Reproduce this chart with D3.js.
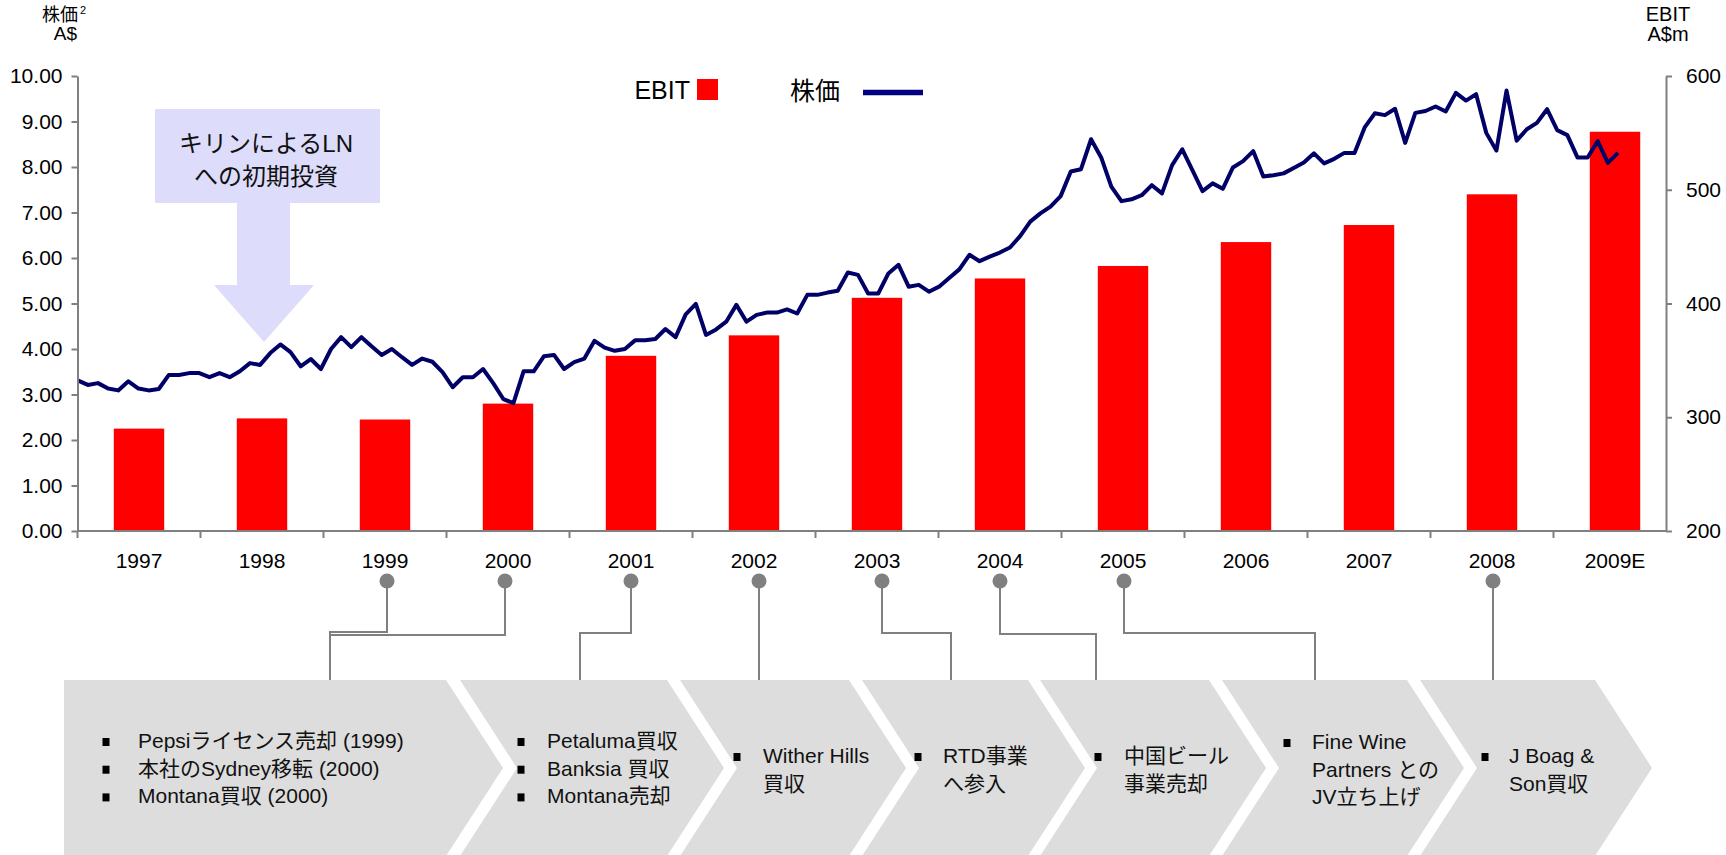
<!DOCTYPE html>
<html lang="ja">
<head>
<meta charset="utf-8">
<title>EBIT と株価</title>
<script src="https://cdn.jsdelivr.net/npm/d3@7"></script>
<style>
  body { margin: 0; background: #fff; }
  svg { display: block; font-family: "Liberation Sans", Arial, "Noto Sans CJK JP", sans-serif; }
</style>
</head>
<body>
<div id="chart"></div>
<script>
// --- data ---
const years = ["1997", "1998", "1999", "2000", "2001", "2002", "2003", "2004", "2005", "2006", "2007", "2008", "2009E"];
const ebit = [290, 299, 298, 312, 354, 372, 405, 422, 433, 454, 469, 496, 551]; // A$m

// monthly share price, A$
const price = [
  3.31, 3.21, 3.25, 3.13, 3.09, 3.29, 3.13, 3.09, 3.12, 3.43,
  3.43, 3.47, 3.47, 3.38, 3.47, 3.38, 3.51, 3.69, 3.65, 3.91,
  4.10, 3.93, 3.62, 3.78, 3.56, 4.00, 4.26, 4.04, 4.26, 4.06,
  3.87, 4.00, 3.82, 3.65, 3.79, 3.72, 3.49, 3.16, 3.38, 3.38,
  3.56, 3.25, 2.90, 2.81, 3.51, 3.51, 3.84, 3.87, 3.56, 3.71,
  3.79, 4.18, 4.03, 3.96, 4.00, 4.19, 4.19, 4.22, 4.44, 4.26,
  4.76, 4.99, 4.31, 4.43, 4.60, 4.97, 4.60, 4.75, 4.80, 4.80,
  4.87, 4.78, 5.19, 5.19, 5.24, 5.28, 5.68, 5.63, 5.22, 5.22,
  5.66, 5.85, 5.37, 5.41, 5.26, 5.37, 5.56, 5.75, 6.07, 5.93,
  6.03, 6.12, 6.23, 6.48, 6.80, 6.98, 7.13, 7.36, 7.90, 7.95,
  8.61, 8.21, 7.57, 7.25, 7.29, 7.38, 7.60, 7.42, 8.04, 8.39,
  7.93, 7.47, 7.64, 7.52, 7.99, 8.13, 8.35, 7.79, 7.82, 7.86,
  7.98, 8.10, 8.30, 8.08, 8.18, 8.31, 8.31, 8.87, 9.18, 9.14,
  9.28, 8.53, 9.19, 9.23, 9.33, 9.22, 9.63, 9.46, 9.60, 8.75,
  8.36, 9.68, 8.58, 8.83, 8.97, 9.27, 8.81, 8.70, 8.21, 8.21,
  8.57, 8.09, 8.31
];

const priceTicks = [0, 1, 2, 3, 4, 5, 6, 7, 8, 9, 10];
const ebitTicks = [200, 300, 400, 500, 600];

const annotationLines = ["キリンによるLN", "への初期投資"];

const eventYears = ["1999", "2000", "2001", "2002", "2003", "2004", "2005", "2008"];
const chevronItems = [
  [["Pepsiライセンス売却 (1999)"], ["本社のSydney移転 (2000)"], ["Montana買収 (2000)"]],
  [["Petaluma買収"], ["Banksia 買収"], ["Montana売却"]],
  [["Wither Hills", "買収"]],
  [["RTD事業", "へ参入"]],
  [["中国ビール", "事業売却"]],
  [["Fine Wine", "Partners との", "JV立ち上げ"]],
  [["J Boag &", "Son買収"]]
];

// --- layout ---
const width = 1726, height = 855;
const axisColor = "#808080";

// connector layout per event: dot nudge, elbow height, drop x on the chevron
const linkLayout = [
  { dx: 2, hy: 632, to: 330 },
  { dx: -3, hy: 635, to: 330 },
  { dx: 0, hy: 633, to: 580 },
  { dx: 5, hy: null, to: null },
  { dx: 5, hy: 633, to: 951 },
  { dx: 0, hy: 634, to: 1096 },
  { dx: 1, hy: 633, to: 1315 },
  { dx: 1, hy: null, to: null }
];

const chevronLayout = [
  { L: 64, R: 446, first: true, bx: 106, tx: 138, base: 748 },
  { L: 460, R: 667, bx: 521, tx: 547, base: 748 },
  { L: 680, R: 849, bx: 737, tx: 763, base: 763 },
  { L: 862, R: 1028, bx: 918, tx: 943, base: 763 },
  { L: 1040, R: 1209, bx: 1098, tx: 1124, base: 763 },
  { L: 1222, R: 1407, bx: 1287, tx: 1312, base: 749 },
  { L: 1420, R: 1595, bx: 1485, tx: 1509, base: 763 }
];

const svg = d3.select("#chart").append("svg")
  .attr("width", width)
  .attr("height", height)
  .style("background", "#fff");

// scales
const x = d3.scaleBand().domain(years).range([77.5, 1676.5]).padding(0);
const yL = d3.scaleLinear().domain([0, 10]).range([531, 76]);
const yR = d3.scaleLinear().domain([200, 600]).range([531, 76]);
const xi = d3.scaleLinear().domain([0, price.length - 1]).range([77.7, 1618]);
const barW = x.bandwidth() * 0.41;

// annotation box + arrow (behind the marks)
svg.append("rect")
  .attr("x", 155).attr("y", 109).attr("width", 225).attr("height", 94)
  .attr("fill", "#DDDDFB");
svg.append("polygon")
  .attr("points", [[237, 203], [290, 203], [290, 285], [314, 285], [264, 342], [214, 285], [237, 285]].join(" "))
  .attr("fill", "#DDDDFB");
svg.append("g").selectAll("text")
  .data(annotationLines)
  .enter().append("text")
  .attr("x", 266)
  .attr("y", (d, i) => 152 + i * 33)
  .attr("text-anchor", "middle")
  .attr("font-size", 24)
  .attr("fill", "#111")
  .text(d => d);

// bars
svg.append("g").selectAll("rect")
  .data(ebit)
  .enter().append("rect")
  .attr("x", (d, i) => x(years[i]) + x.bandwidth() / 2 - barW / 2)
  .attr("y", d => yR(d))
  .attr("width", barW)
  .attr("height", d => yR(200) - yR(d))
  .attr("fill", "#FF0000");

// share price line
const line = d3.line()
  .x((d, i) => xi(i))
  .y(d => yL(d));

svg.append("path")
  .datum(price)
  .attr("fill", "none")
  .attr("stroke", "#000066")
  .attr("stroke-width", 4)
  .attr("stroke-linejoin", "round")
  .attr("d", line);

// left axis
const gL = svg.append("g")
  .attr("transform", "translate(77.5,0)")
  .call(d3.axisLeft(yL).tickValues(priceTicks).tickFormat(d3.format(".2f")).tickSize(6).tickSizeOuter(0).tickPadding(9));

// right axis
const gR = svg.append("g")
  .attr("transform", "translate(1666,0)")
  .call(d3.axisRight(yR).tickValues(ebitTicks).tickSize(6).tickSizeOuter(0).tickPadding(14));

// bottom axis: labels at band centres, ticks on band edges
const gB = svg.append("g")
  .attr("transform", "translate(0,531)")
  .call(d3.axisBottom(x).tickSize(0).tickPadding(22));
gB.select(".domain").remove();
gB.append("line")
  .attr("x1", 77.5).attr("x2", 1666).attr("y1", 0).attr("y2", 0)
  .attr("stroke", axisColor).attr("stroke-width", 2);
gB.selectAll(".edge")
  .data(years)
  .enter().append("line")
  .attr("class", "edge")
  .attr("x1", d => x(d)).attr("x2", d => x(d))
  .attr("y1", 0).attr("y2", 7)
  .attr("stroke", axisColor).attr("stroke-width", 2);

[gL, gR, gB].forEach(g => {
  g.selectAll(".domain, .tick line").attr("stroke", axisColor).attr("stroke-width", 2);
  g.selectAll("text").attr("font-size", 21).attr("fill", "#000")
    .style("font-family", "\"Liberation Sans\", Arial, sans-serif");
});

// axis titles
svg.append("text").attr("x", 78).attr("y", 21).attr("text-anchor", "end").attr("font-size", 18).text("株価");
svg.append("text").attr("x", 80).attr("y", 14).attr("font-size", 11).text("2");
svg.append("text").attr("x", 77).attr("y", 40).attr("text-anchor", "end").attr("font-size", 19).text("A$");
svg.append("text").attr("x", 1668).attr("y", 21).attr("text-anchor", "middle").attr("font-size", 20).text("EBIT");
svg.append("text").attr("x", 1668).attr("y", 40.5).attr("text-anchor", "middle").attr("font-size", 20).text("A$m");

// legend
svg.append("text").attr("x", 690).attr("y", 99).attr("text-anchor", "end").attr("font-size", 25).text("EBIT");
svg.append("rect").attr("x", 697).attr("y", 79).attr("width", 21).attr("height", 21).attr("fill", "#FF0000");
svg.append("text").attr("x", 790).attr("y", 100).attr("font-size", 25).text("株価");
svg.append("line").attr("x1", 863).attr("x2", 923).attr("y1", 92.5).attr("y2", 92.5)
  .attr("stroke", "#000080").attr("stroke-width", 5.5);

// chevrons
const chevTop = 680, chevBottom = 856, chevMid = 768, chevDepth = 57;
const gC = svg.append("g");
chevronLayout.forEach((c, k) => {
  const pts = c.first
    ? [[c.L, chevTop], [c.R, chevTop], [c.R + chevDepth, chevMid], [c.R, chevBottom], [c.L, chevBottom]]
    : [[c.L, chevTop], [c.R, chevTop], [c.R + chevDepth, chevMid], [c.R, chevBottom], [c.L, chevBottom], [c.L + chevDepth, chevMid]];
  gC.append("polygon").attr("points", pts.join(" ")).attr("fill", "#DDDDDD");

  let row = 0;
  chevronItems[k].forEach(item => {
    const base = c.base + row * 27.7;
    gC.append("rect")
      .attr("x", c.bx - 3.5).attr("y", base - 10).attr("width", 7).attr("height", 8)
      .attr("fill", "#000");
    item.forEach((txt, j) => {
      gC.append("text")
        .attr("x", c.tx).attr("y", c.base + (row + j) * 27.7)
        .attr("font-size", 21).attr("fill", "#111")
        .text(txt);
    });
    row += item.length;
  });
});

// event markers and connectors
const gE = svg.append("g");
eventYears.forEach((yr, i) => {
  const lay = linkLayout[i];
  const cx = x(yr) + x.bandwidth() / 2 + lay.dx;
  const d = lay.hy === null
    ? `M${cx},581V${chevTop}`
    : `M${cx},581V${lay.hy}H${lay.to}V${chevTop}`;
  gE.append("path").attr("d", d).attr("fill", "none").attr("stroke", axisColor).attr("stroke-width", 2);
  gE.append("circle").attr("cx", cx).attr("cy", 581).attr("r", 7.5).attr("fill", axisColor);
});
</script>
</body>
</html>
